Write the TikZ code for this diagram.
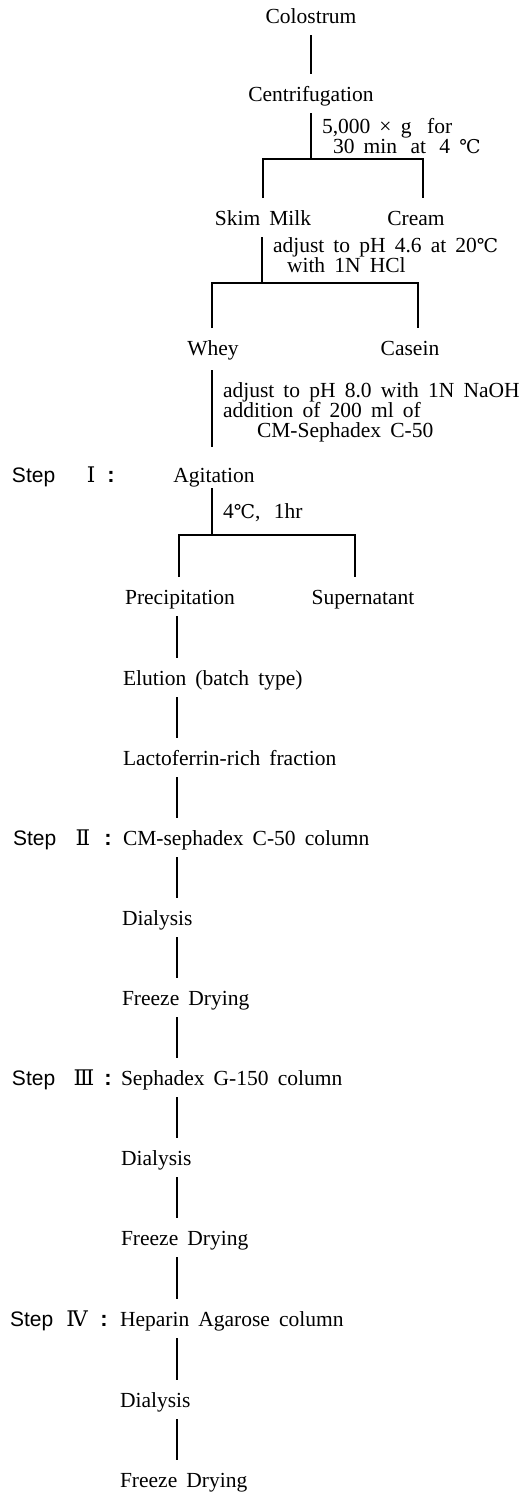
\documentclass[tikz,border=0pt]{standalone}
\usepackage{fontspec}
\setmainfont{Liberation Serif}[WordSpace=1.7]
\newfontfamily\stepfont{Liberation Sans}
\newfontfamily\symfont{DejaVu Serif}
\newcommand{\degC}{{\symfont\fontsize{19}{24}\selectfont ℃}}
\newcommand{\rnum}[1]{{\symfont #1}}
\begin{document}
\begin{tikzpicture}[x=1pt,y=-1pt,
  every node/.style={font=\fontsize{21.5}{24}\selectfont, inner sep=0pt, outer sep=0pt},
  item/.style={anchor=base, text height=27pt, text depth=12pt},
  itemL/.style={anchor=base west, text height=27pt, text depth=12pt},
  note/.style={anchor=base west},
  steplab/.style={anchor=base west, font=\fontsize{21}{24}\selectfont\stepfont},
  stepmark/.style={anchor=base},
  stepcolon/.style={anchor=base, font=\fontsize{22}{24}\selectfont\stepfont\bfseries},
  link/.style={line width=1.4pt}]
\useasboundingbox (0,0) rectangle (525,1492);

% top part
\node[item] (colo) at (311,23) {Colostrum};
\node[item] (centrif) at (311,101) {Centrifugation};
\node[note] (n1a) at (322,133) {5,000 × g\hspace{0.3em} for};
\node[note] (n1b) at (333,153) {30 min\hspace{0.2em} at\hspace{0.2em} 4 \degC};
\node[item] (skim) at (263,225) {Skim Milk};
\node[item] (cream) at (416,225) {Cream};
\coordinate (j1) at (311,159);
\draw[link] (colo.south) -- (centrif.north);
\draw[link] (centrif.south) -- (j1);
\draw[link] (skim.north) |- (j1) -| ([xshift=7pt]cream.north);

\node[note] (n2a) at (273,252) {adjust to pH 4.6 at 20\degC};
\node[note] (n2b) at (287,272) {with 1N HCl};
\coordinate (j2) at (262,283);
\node[item, text depth=15pt] (whey) at (213,355) {Whey};
\node[item] (casein) at (410,355) {Casein};
\draw[link] (j2 |- skim.south) -- (j2);
\draw[link] ([xshift=-1pt]whey.north) |- (j2) -| ([xshift=8pt]casein.north);

\node[note] (n3a) at (223,397) {adjust to pH 8.0 with 1N NaOH};
\node[note] (n3b) at (223,417) {addition of 200 ml of};
\node[note] (n3c) at (257,437) {CM-Sephadex C-50};
\node[item, text height=35pt, text depth=6pt] (agit) at (214,482) {Agitation};
\coordinate (j3) at (212,535);
\draw[link] (j3 |- whey.south) -- (j3 |- agit.north);

\node[steplab] (s1) at (12,482) {Step};
\node[stepmark] (r1) at (91,482) {\rnum{Ⅰ}};
\node[stepcolon] (c1) at (111,482) {:};

\node[note] (n4) at (223,518) {4\degC,\hspace{0.2em} 1hr};
\node[item] (prec) at (180,604) {Precipitation};
\node[item] (super) at (363,604) {Supernatant};
\draw[link] (j3 |- agit.south) -- (j3);
\draw[link] ([xshift=-1pt]prec.north) |- (j3) -| ([xshift=-8pt]super.north);

% trunk
\coordinate (trunk) at (177,0);
\node[itemL] (elut) at (123,685) {Elution (batch type)};
\node[itemL] (lacto) at (123,765) {Lactoferrin-rich fraction};
\node[itemL] (cmcol) at (123,845) {CM-sephadex C-50 column};
\node[itemL] (dia1) at (122,925) {Dialysis};
\node[itemL] (fd1) at (122,1005) {Freeze Drying};
\node[itemL] (sgcol) at (121,1085) {Sephadex G-150 column};
\node[itemL] (dia2) at (121,1165) {Dialysis};
\node[itemL] (fd2) at (121,1245) {Freeze Drying};
\node[itemL] (hep) at (120,1326) {Heparin Agarose column};
\node[itemL] (dia3) at (120,1407) {Dialysis};
\node[itemL] (fd3) at (120,1487) {Freeze Drying};

\foreach \a/\b in {prec/elut, elut/lacto, lacto/cmcol, cmcol/dia1, dia1/fd1, fd1/sgcol, sgcol/dia2, dia2/fd2, fd2/hep, hep/dia3, dia3/fd3}
  \draw[link] (trunk |- \a.south) -- (trunk |- \b.north);

\node[steplab] (s2) at (13,845) {Step};
\node[stepmark] (r2) at (83,845) {\rnum{Ⅱ}};
\node[stepcolon] (c2) at (108,845) {:};
\node[steplab] (s3) at (12,1085) {Step};
\node[stepmark] (r3) at (84,1085) {\rnum{Ⅲ}};
\node[stepcolon] (c3) at (108,1085) {:};
\node[steplab] (s4) at (10,1326) {Step};
\node[stepmark] (r4) at (77,1326) {\rnum{Ⅳ}};
\node[stepcolon] (c4) at (104,1326) {:};
\end{tikzpicture}
\end{document}
